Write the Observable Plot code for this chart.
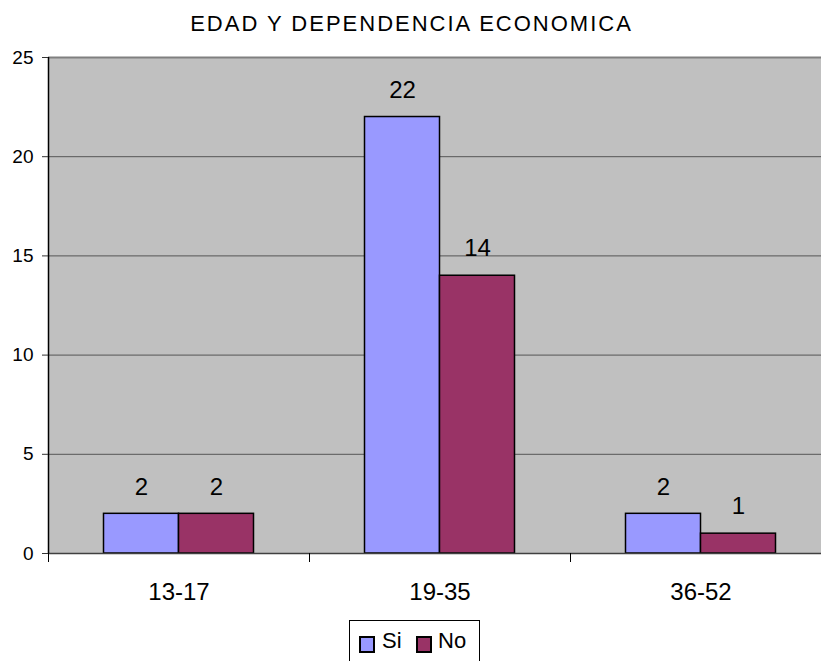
<!DOCTYPE html>
<html>
<head>
<meta charset="utf-8">
<script src="https://cdn.jsdelivr.net/npm/d3@7"></script>
<script src="https://cdn.jsdelivr.net/npm/@observablehq/plot@0.6"></script>
<style>
  html, body { margin: 0; padding: 0; background: white; overflow: hidden; }
  body { width: 821px; height: 661px; position: relative; font-family: "Liberation Sans", Arial, sans-serif; }
  #title { position: absolute; left: 0; top: 13px; width: 821px; text-align: center; font-size: 22px; line-height: 22px; letter-spacing: 2px; padding-left: 2px; box-sizing: border-box; color: #000; }
  #chart { position: absolute; left: 0; top: 45px; }
  #legend { position: absolute; left: 349px; top: 620px; width: 129px; height: 60px; border: 1px solid #000; background: white; }
  .sw { position: absolute; top: 15px; width: 12px; height: 13px; border: 2px solid #000; }
  .lt { position: absolute; top: 9px; font-size: 22px; line-height: 22px; color: #000; }
</style>
</head>
<body>
<div id="title"></div>
<div id="chart"></div>
<div id="legend"></div>
<script>
const title = "EDAD Y DEPENDENCIA ECONOMICA";
const categories = ["13-17", "19-35", "36-52"];
const seriesNames = ["Si", "No"];
const siValues = [2, 22, 2];
const noValues = [2, 14, 1];
const seriesColors = ["#9999FF", "#993366"];
const yTicks = [0, 5, 10, 15, 20, 25];
const gridValues = [5, 10, 15, 20];

document.getElementById("title").textContent = title;

const rows = [];
categories.forEach((c, i) => {
  rows.push({category: c, series: seriesNames[0], value: siValues[i]});
  rows.push({category: c, series: seriesNames[1], value: noValues[i]});
});
const siRows = rows.filter(d => d.series === seriesNames[0]);
const noRows = rows.filter(d => d.series === seriesNames[1]);

const half = 130.5;   // half of band width in px
const plot = Plot.plot({
  width: 821,
  height: 567,
  marginTop: 12,
  marginBottom: 59,
  marginLeft: 48,
  marginRight: -10,
  style: {fontFamily: "Liberation Sans, Arial, sans-serif", background: "transparent", overflow: "visible", color: "#000"},
  x: {domain: categories, padding: 0, axis: null, label: null},
  y: {domain: [0, 25], axis: null, label: null},
  color: {domain: seriesNames, range: seriesColors},
  marks: [
    Plot.frame({fill: "#C0C0C0", stroke: null}),
    Plot.ruleY(gridValues, {stroke: "#555", strokeWidth: 1}),
    Plot.ruleY([25], {stroke: "#808080", strokeWidth: 2}),
    Plot.barY(siRows, {x: "category", y: "value", fill: "series", stroke: "#000", strokeWidth: 1.5, insetLeft: 55.5, insetRight: 130.5}),
    Plot.barY(noRows, {x: "category", y: "value", fill: "series", stroke: "#000", strokeWidth: 1.5, insetLeft: 130.5, insetRight: 55.5}),
    Plot.text(siRows, {x: "category", y: "value", text: d => String(d.value), dx: -37.5, dy: -27, fontSize: 24, fill: "#000"}),
    Plot.text(noRows, {x: "category", y: "value", text: d => String(d.value), dx: 37.5, dy: -27, fontSize: 24, fill: "#000"}),
    Plot.ruleY([0], {stroke: "#404040", strokeWidth: 1.5}),
    Plot.ruleX([categories[0]], {y1: 0, y2: 25, dx: -half, stroke: "#000", strokeWidth: 1.5}),
    Plot.axisY({ticks: yTicks, tickSize: 6, tickPadding: 9, fontSize: 19, stroke: "#333", label: null}),
    Plot.axisX({tickSize: 0, tickPadding: 29, fontSize: 24, label: null}),
    Plot.axisX({tickSize: 9, tickFormat: () => "", dx: -half, stroke: "#000", label: null})
  ]
});
document.getElementById("chart").appendChild(plot);

const legend = document.getElementById("legend");
const legendPos = [{sw: 9, tx: 32}, {sw: 66, tx: 88}];
seriesNames.forEach((name, i) => {
  const sw = document.createElement("div");
  sw.className = "sw";
  sw.style.left = legendPos[i].sw + "px";
  sw.style.background = seriesColors[i];
  legend.appendChild(sw);
  const t = document.createElement("div");
  t.className = "lt";
  t.style.left = legendPos[i].tx + "px";
  t.textContent = name;
  legend.appendChild(t);
});
</script>
</body>
</html>
